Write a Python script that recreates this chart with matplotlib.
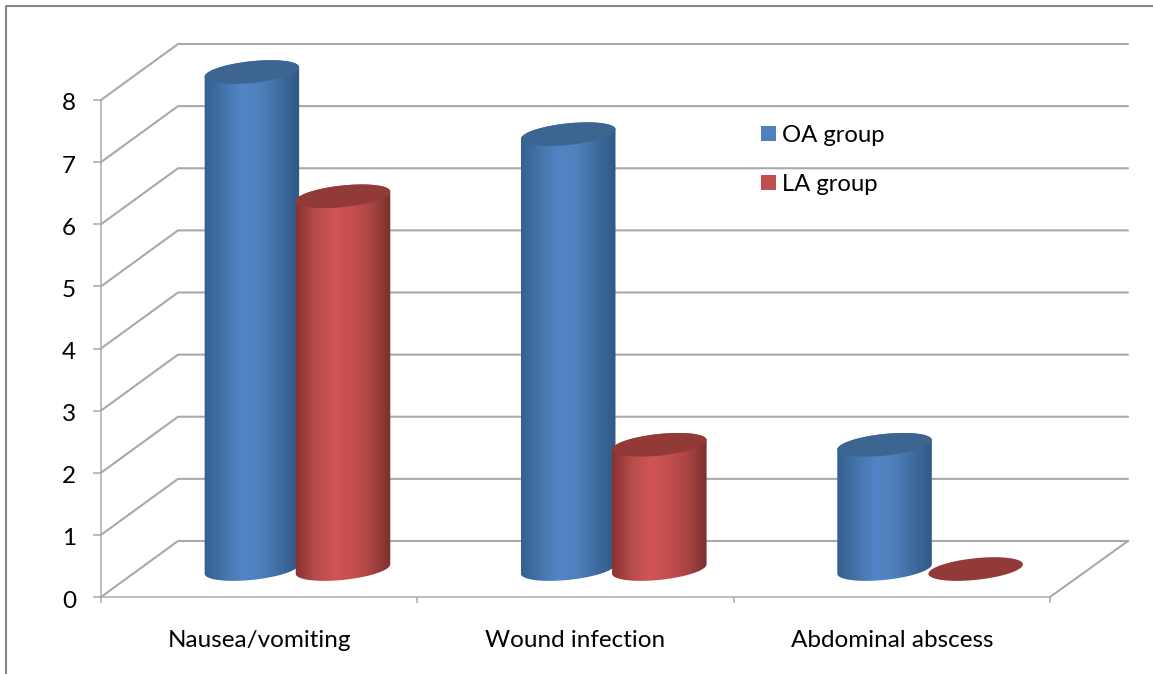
import numpy as np
import matplotlib
matplotlib.use('Agg')
import matplotlib.pyplot as plt
from matplotlib.colors import LinearSegmentedColormap
from matplotlib.lines import Line2D
from matplotlib.patches import Patch, Polygon
from matplotlib.transforms import ScaledTranslation

categories = ['Nausea/vomiting', 'Wound infection', 'Abdominal abscess']
series_names = ['OA group', 'LA group']
oa_values = [8, 7, 2]
la_values = [6, 2, 0]
y_ticks = [0, 1, 2, 3, 4, 5, 6, 7, 8]

plt.rcParams['font.family'] = ['Lato', 'DejaVu Sans']

W, H = 1153, 674
fig = plt.figure(figsize=(W / 100, H / 100), dpi=100)
# axes box is the front plane of the 3d chart
ax = fig.add_axes([101 / W, 1 - 597 / H, (1050 - 101) / W, (597 - 100) / H])
ax.patch.set_alpha(0)

px_x = (1050 - 101) / 3   # pixels per category
px_y = (597 - 100) / 8    # pixels per y unit
back_dx = 77 / px_x
back_dy = 56 / px_y
right_end = (1128 - 101) / px_x
base_y = 0.45
grid_col = '#a9a9a9'
grid_lw = 1.5

for v in y_ticks:
    xs = [0, back_dx, right_end]
    ys = [v, v + back_dy, v + back_dy]
    ax.plot(xs, ys, color=grid_col, lw=grid_lw, zorder=1, clip_on=False, solid_capstyle='round')
# floor edge on the right
ax.plot([3, right_end], [0, back_dy], color=grid_col, lw=grid_lw, zorder=1, clip_on=False)

blue_cmap = LinearSegmentedColormap.from_list('b', ['#35608f', '#4474aa', '#5285c6', '#4f80bc', '#3f6c9f', '#2f5884'])
red_cmap = LinearSegmentedColormap.from_list('r', ['#87302e', '#b34c4a', '#cf5553', '#c5504e', '#a84543', '#79302d'])
blue_top = '#3c6592'
red_top = '#913a37'
ell_a, ell_b, ell_th = 47.5, 10.8, np.radians(6)


def ellipse_pts(cx, cy, t):
    dx = ell_a * np.cos(t) * np.cos(ell_th) - ell_b * np.sin(t) * np.sin(ell_th)
    dy = ell_a * np.cos(t) * np.sin(ell_th) + ell_b * np.sin(t) * np.cos(ell_th)
    return cx + dx / px_x, cy + dy / px_y


def cylinder(cx, value, cmap, top_col):
    # t0 is where the ellipse reaches its right extreme
    t0 = np.arctan2(-ell_b * np.tan(ell_th), ell_a)
    top = base_y + value
    if value > 0:
        tt = np.linspace(t0, t0 + np.pi, 40)
        x1, y1 = ellipse_pts(cx, top, tt)
        x2, y2 = ellipse_pts(cx, base_y, tt + np.pi)
        pts = np.column_stack([np.r_[x1, x2], np.r_[y1, y2]])
        body = Polygon(pts, closed=True, facecolor='none', edgecolor='none', zorder=2, clip_on=False)
        ax.add_patch(body)
        grad = np.linspace(0, 1, 128).reshape(1, -1)
        im = ax.imshow(grad, cmap=cmap, aspect='auto', interpolation='bilinear', zorder=3,
                       extent=[cx - 48 / px_x, cx + 48 / px_x, base_y - 0.3, top + 0.3])
        im.set_clip_path(body)
        im.set_clip_box(fig.bbox)
    tt = np.linspace(0, 2 * np.pi, 80)
    x3, y3 = ellipse_pts(cx, top, tt)
    ax.add_patch(Polygon(np.column_stack([x3, y3]), closed=True, facecolor=top_col,
                         edgecolor='none', zorder=4, clip_on=False))


for i in range(len(categories)):
    cylinder(i + 0.477, oa_values[i], blue_cmap, blue_top)
    cylinder(i + 0.765, la_values[i], red_cmap, red_top)

ax.set_xlim(0, 3)
ax.set_ylim(0, 8)
ax.set_yticks(y_ticks)
ax.set_xticks([0, 1, 2, 3])
ax.set_xticklabels([])
ax.set_xticks([0.5, 1.5, 2.5], minor=True)
ax.set_xticklabels(categories, minor=True)
ax.tick_params(axis='x', which='major', length=4.5, width=1.1, color=grid_col)
ax.tick_params(axis='x', which='minor', length=0, labelsize=17.5, pad=24, labelcolor='black')
ax.tick_params(axis='y', length=6, width=1.1, color=grid_col, labelsize=17.5, pad=12, labelcolor='black')
# digits sit a little under their ticks
shift = ScaledTranslation(0, -2 / 100, fig.dpi_scale_trans)
for lab in ax.get_yticklabels():
    lab.set_transform(lab.get_transform() + shift)
for s in ['top', 'right']:
    ax.spines[s].set_visible(False)
for s in ['left', 'bottom']:
    ax.spines[s].set_color(grid_col)
    ax.spines[s].set_linewidth(grid_lw * 0.72)

handles = [Patch(facecolor='#4f81bd', edgecolor='none'), Patch(facecolor='#c0504d', edgecolor='none')]
fig.legend(handles, series_names, loc='upper left', bbox_to_anchor=(761 / W, 1 - 125 / H),
           frameon=False, fontsize=17.2, handlelength=0.63, handleheight=0.63, handletextpad=0.26,
           labelspacing=1.17, borderpad=0, borderaxespad=0)

# outer chart frame, open at the bottom and right
fig.add_artist(Line2D([5.5 / W, 5.5 / W, 1], [0, 1 - 6 / H, 1 - 6 / H], color='#868686', lw=1.5,
                      transform=fig.transFigure))

fig.savefig('out.png', dpi=100)
